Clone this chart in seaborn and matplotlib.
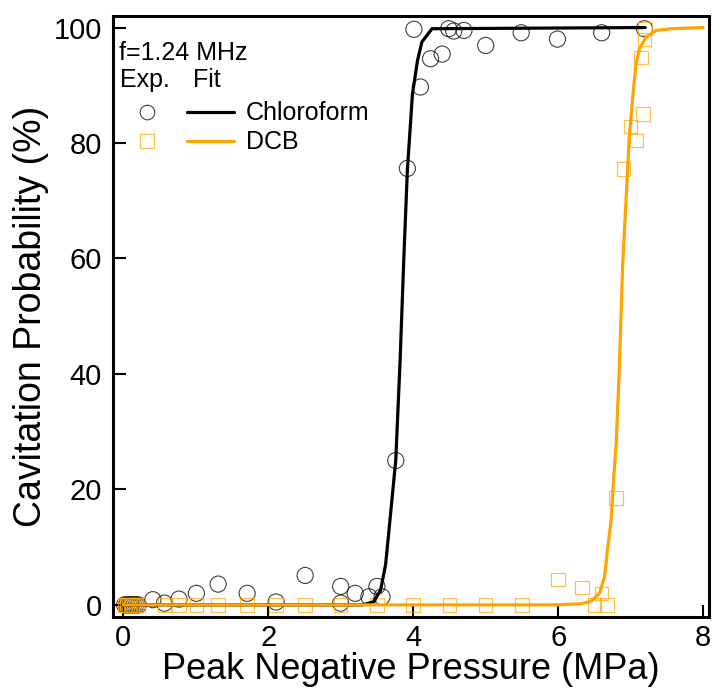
import seaborn as sns
import matplotlib.pyplot as plt
from matplotlib.lines import Line2D
from matplotlib.legend_handler import HandlerTuple

chl_x = [0.02, 0.05, 0.08, 0.10, 0.12, 0.15, 0.18, 0.21, 0.41, 0.57, 0.77, 1.01,
         1.31, 1.71, 2.11, 2.51, 3.00, 3.00, 3.20, 3.39, 3.50, 3.57, 3.76, 3.92,
         4.01, 4.10, 4.24, 4.40, 4.49, 4.56, 4.70, 5.00, 5.49, 5.99, 6.60, 7.19]
chl_y = [0, 0, 0, 0, 0, 0, 0, 0, 0.9, 0.3, 1.0, 2.0,
         3.6, 2.0, 0.5, 5.1, 3.2, 0.3, 2.0, 1.4, 3.2, 1.4, 25.0, 75.6,
         99.7, 89.7, 94.6, 95.4, 99.8, 99.4, 99.5, 96.9, 99.1, 98.0, 99.1, 99.8]

dcb_x = [0.02, 0.05, 0.08, 0.10, 0.12, 0.15, 0.18, 0.21, 0.57, 0.77, 1.01, 1.31,
         1.71, 2.11, 2.51, 3.00, 3.50, 4.00, 4.50, 5.00, 5.50, 6.00, 6.33, 6.50,
         6.60, 6.67, 6.80, 6.90, 7.00, 7.08, 7.17, 7.14, 7.19, 7.20]
dcb_y = [0, 0, 0, 0, 0, 0, 0, 0, 0, 0, 0, 0,
         0, 0, 0, 0, 0, 0, 0, 0, 0, 4.4, 3.0, 0,
         2.0, 0, 18.5, 75.5, 82.9, 80.4, 85.0, 94.8, 97.9, 99.8]

# fitted curves
chl_fit_x = [0, 3.30, 3.45, 3.55, 3.62, 3.68, 3.76, 3.82, 3.87, 3.92, 3.99, 4.06,
             4.12, 4.26, 7.20]
chl_fit_y = [0, 0, 0.5, 2.5, 7.0, 14.7, 25.1, 42.4, 59.7, 75.3, 88.5, 94.3,
             97.5, 99.8, 100]

dcb_fit_x = [0, 6.00, 6.31, 6.45, 6.57, 6.64, 6.68, 6.73, 6.76, 6.80, 6.84, 6.89,
             6.94, 6.98, 7.03, 7.07, 7.12, 7.21, 7.35, 7.56, 8.00]
dcb_fit_y = [0, 0, 0.2, 0.6, 2.0, 4.9, 9.5, 14.7, 21.0, 28.0, 40.0, 59.0,
             71.2, 81.0, 88.2, 93.4, 96.3, 98.3, 99.5, 99.8, 100]

sns.set_style("ticks")
plt.rcParams['font.family'] = ['Liberation Sans', 'DejaVu Sans']
plt.rcParams.update({'text.color': 'black', 'axes.labelcolor': 'black',
                     'xtick.color': 'black', 'ytick.color': 'black',
                     'axes.edgecolor': 'black'})

fig = plt.figure(figsize=(7.13, 6.96), dpi=100)
ax = fig.add_axes([113 / 713, 1 - 617 / 696, 596 / 713, 601 / 696])

sns.scatterplot(x=chl_x, y=chl_y, marker='o', s=135, facecolor='none',
                edgecolor='black', linewidth=0.8, alpha=0.75, ax=ax, zorder=2)
sns.scatterplot(x=dcb_x, y=dcb_y, marker='s', s=95, facecolor='none',
                edgecolor='orange', linewidth=0.9, alpha=0.7, ax=ax, zorder=2)
sns.lineplot(x=chl_fit_x, y=chl_fit_y, color='black', lw=2.3, ax=ax, zorder=3)
sns.lineplot(x=dcb_fit_x, y=dcb_fit_y, color='orange', lw=2.3, ax=ax, zorder=4)

ax.set_xlim(-0.14, 8.08)
ax.set_ylim(-2.1, 102)
ax.set_xticks([0, 2, 4, 6, 8])
ax.set_yticks([0, 20, 40, 60, 80, 100])
ax.tick_params(direction='in', length=9, width=1.5, labelsize=21,
               top=False, right=False, colors='black')
ax.tick_params(axis='x', pad=5)
ax.tick_params(axis='y', pad=8)
for sp in ax.spines.values():
    sp.set_linewidth(2.2)
    sp.set_visible(True)

ax.set_xlabel('Peak Negative Pressure (MPa)', fontsize=26, labelpad=0)
ax.set_ylabel('Cavitation Probability (%)', fontsize=27, labelpad=3)

# legend header
ax.text(0.010, 0.927, 'f=1.24 MHz', fontsize=18, va='baseline', transform=ax.transAxes)
ax.text(0.012, 0.882, 'Exp.', fontsize=18, va='baseline', transform=ax.transAxes)
ax.text(0.134, 0.882, 'Fit', fontsize=18, va='baseline', transform=ax.transAxes)

h_chl = (Line2D([], [], ls='none', marker='o', ms=10.5, mfc='none', mec='black',
                mew=0.8, alpha=0.75),
         Line2D([], [], color='black', lw=2.3))
h_dcb = (Line2D([], [], ls='none', marker='s', ms=9.5, mfc='none', mec='orange',
                mew=0.9, alpha=0.7),
         Line2D([], [], color='orange', lw=2.3))
ax.legend([h_chl, h_dcb], ['Chloroform', 'DCB'],
          handler_map={tuple: HandlerTuple(ndivide=None, pad=0.7)},
          loc='upper left', bbox_to_anchor=(0.018, 0.858), borderaxespad=0,
          borderpad=0, frameon=False, fontsize=18, handlelength=4.4,
          handletextpad=0.5, labelspacing=0.2)

fig.savefig('out.png', dpi=100)
